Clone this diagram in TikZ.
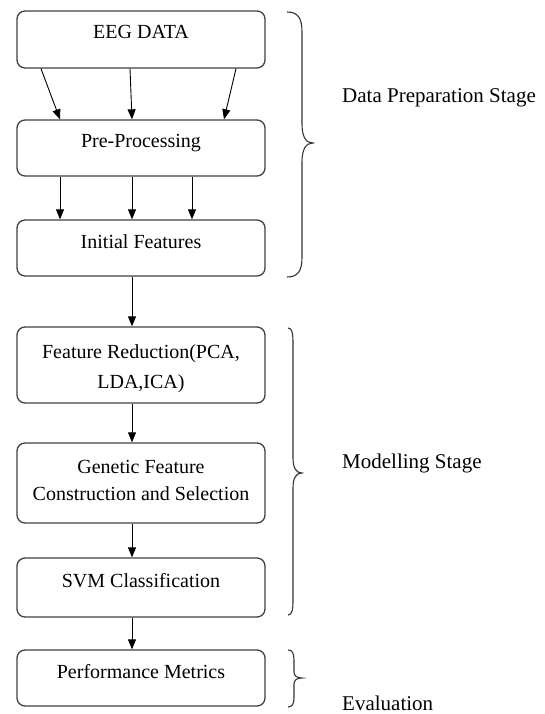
\documentclass[tikz,border=0pt]{standalone}
\usepackage{fontspec}
\setmainfont{Liberation Serif}
\usetikzlibrary{arrows.meta}
\begin{document}
\begin{tikzpicture}[x=1pt,y=-1pt,
  box/.style={draw=black!75,line width=1.3pt,rounded corners=8pt,minimum width=248pt,inner sep=0pt},
  lbl/.style={font=\fontsize{20}{30}\selectfont,anchor=base,inner sep=0pt},
  side/.style={font=\fontsize{21}{30}\selectfont,anchor=base west,inner sep=0pt},
  arr/.style={draw=black,line width=0.9pt,-{Triangle[length=10pt,width=8pt]}},
  brace/.style={draw=black!80,line width=1.1pt}]
\useasboundingbox (0,0) rectangle (544,714);
% boxes
\node[box,minimum height=57pt] (eeg) at (141,39.5) {};
\node[box,minimum height=56pt] (pp) at (141,148) {};
\node[box,minimum height=56pt] (if) at (141,248) {};
\node[box,minimum height=76pt] (fr) at (141,365) {};
\node[box,minimum height=80pt] (gf) at (141,483) {};
\node[box,minimum height=59pt] (svm) at (141,587.5) {};
\node[box,minimum height=56pt] (pm) at (141,678) {};
% labels
\node[lbl] (eegT) at (141,39) {EEG DATA};
\node[lbl] (ppT) at (141,148) {Pre-Processing};
\node[lbl] (ifT) at (141,248) {Initial Features};
\node[lbl] (frTa) at (141,358) {Feature Reduction(PCA,};
\node[lbl] (frTb) at (141,388) {LDA,ICA)};
\node[lbl] (gfTa) at (141,473) {Genetic Feature};
\node[lbl] (gfTb) at (141,500) {Construction and Selection};
\node[lbl] (svmT) at (141,587) {SVM Classification};
\node[lbl] (pmT) at (141,678) {Performance Metrics};
% arrows
\draw[arr] ([xshift=-100pt]eeg.south) -- ([xshift=-81pt]pp.north);
\draw[arr] ([xshift=-11pt]eeg.south) -- ([xshift=-9pt]pp.north);
\draw[arr] ([xshift=95pt]eeg.south) -- ([xshift=83pt]pp.north);
\draw[arr] ([xshift=-81pt]pp.south) -- ([xshift=-81pt]if.north);
\draw[arr] ([xshift=-9pt]pp.south) -- ([xshift=-9pt]if.north);
\draw[arr] ([xshift=51pt]pp.south) -- ([xshift=51pt]if.north);
\draw[arr] ([xshift=-9pt]if.south) -- ([xshift=-9pt]fr.north);
\draw[arr] ([xshift=-9pt]fr.south) -- ([xshift=-9pt]gf.north);
\draw[arr] ([xshift=-9pt]gf.south) -- ([xshift=-9pt]svm.north);
\draw[arr] ([xshift=-9pt]svm.south) -- ([xshift=-9pt]pm.north);
% braces
\draw[brace] (287,12) .. controls (298,12) and (302,18) .. (302,32) -- (302,124)
  .. controls (302,137) and (306,143) .. (313,143)
  .. controls (306,143) and (302,149) .. (302,162) -- (302,257)
  .. controls (302,271) and (298,277) .. (287,277);
\draw[brace] (288,328) .. controls (292,328) and (293,333) .. (293,343) -- (293,458)
  .. controls (293,468) and (296,473) .. (302,473)
  .. controls (296,473) and (293,478) .. (293,488) -- (293,600)
  .. controls (293,610) and (292,615) .. (288,615);
\draw[brace] (288,650) .. controls (292,650) and (294,653) .. (294,660) -- (294,672)
  .. controls (294,676) and (297,678) .. (302,678)
  .. controls (297,678) and (294,680) .. (294,684) -- (294,698)
  .. controls (294,704) and (292,707) .. (288,707);
% side texts
\node[side] (dps) at (342,103) {Data Preparation Stage};
\node[side] (ms) at (342,468) {Modelling Stage};
\node[side] (ev) at (342,710) {Evaluation};
\end{tikzpicture}
\end{document}
